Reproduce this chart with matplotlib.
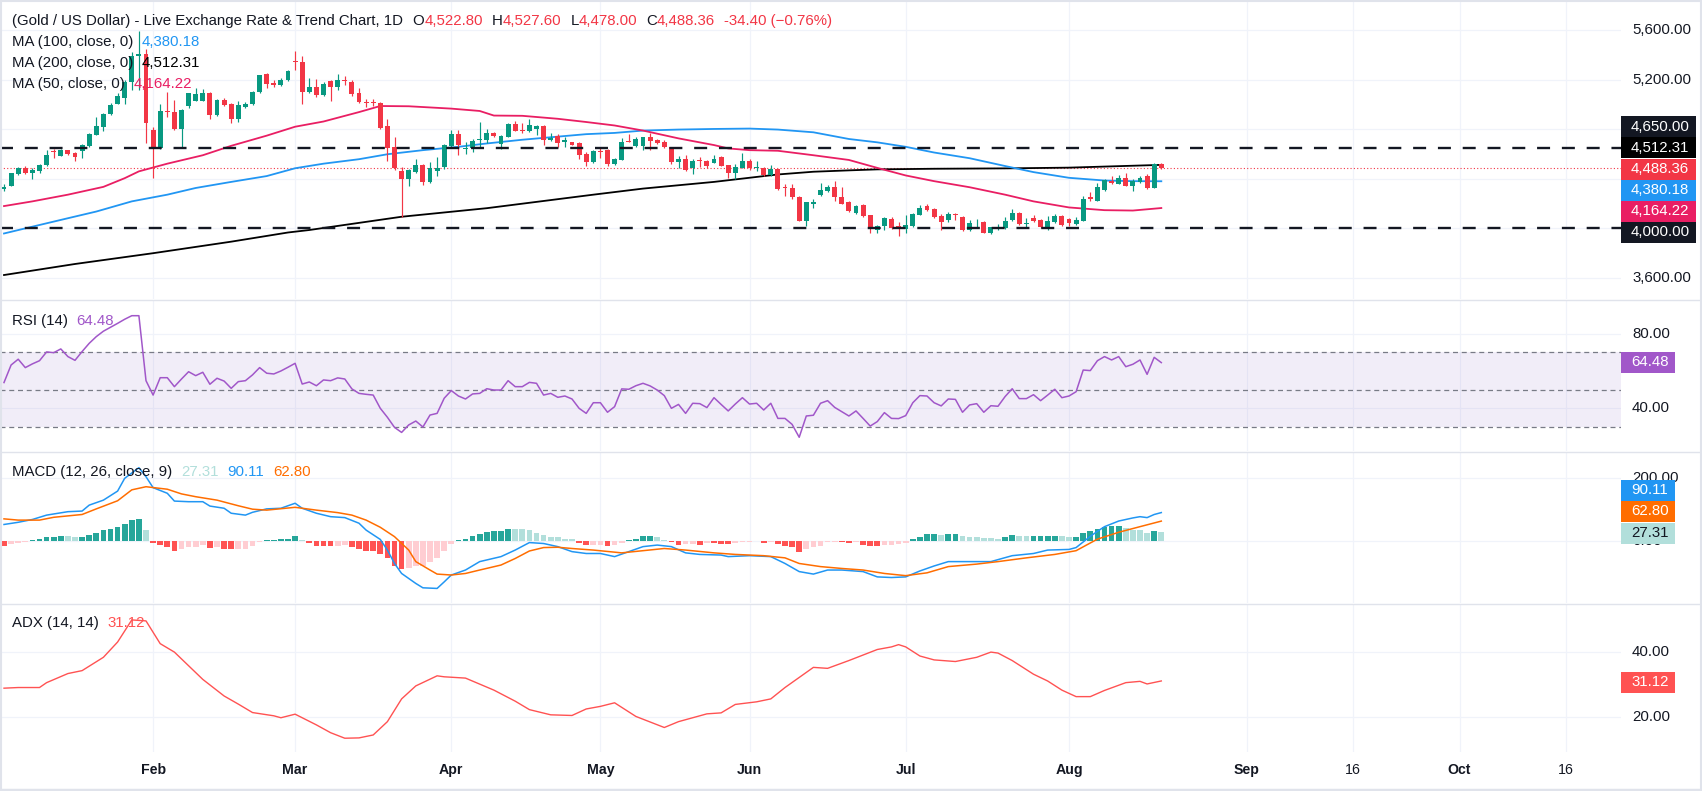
import numpy as np
import pandas as pd
import matplotlib
matplotlib.use("Agg")
import matplotlib.pyplot as plt
from matplotlib.patches import Rectangle
from matplotlib.lines import Line2D
from matplotlib.transforms import blended_transform_factory

plt.rcParams['font.family'] = ['Liberation Sans', 'DejaVu Sans']

# ------------------------------------------------------------------ data
holidays = ['2026-04-03']
dates = pd.bdate_range('2026-01-02', '2026-08-20')
dates = dates[~dates.isin(pd.to_datetime(holidays))]

opens = [4320, 4345, 4435, 4490, 4445, 4460, 4510, 4625, 4585, 4630,
         4610, 4626, 4666, 4753, 4820, 4920, 5006, 5055, 5183, 5390,
         5410, 4794, 4647, 4950, 4940, 4802, 4985, 5030, 5030, 5095,
         4911, 5039, 5000, 4879, 4980, 5000, 5102, 5245, 5170, 5155,
         5200, 5350, 5341, 5096, 5142, 5074, 5188, 5137, 5197, 5183,
         5088, 5015, 5015, 5015, 4824, 4653, 4462, 4400, 4457, 4508,
         4373, 4465, 4498, 4666, 4762, 4640, 4648, 4715, 4712, 4767,
         4680, 4740, 4843, 4790, 4789, 4800, 4824, 4710, 4748, 4700,
         4694, 4688, 4598, 4539, 4625, 4634, 4522, 4552, 4705, 4666,
         4666, 4740, 4713, 4694, 4653, 4539, 4563, 4484, 4548, 4544,
         4530, 4577, 4511, 4449, 4490, 4544, 4490, 4490, 4430, 4476,
         4330, 4326, 4256, 4063, 4200, 4267, 4299, 4332, 4256, 4210,
         4128, 4190, 4109, 3986, 4019, 4076, 4016, 3995, 4019, 4109,
         4177, 4158, 4103, 4068, 4117, 4092, 3986, 4041, 4052, 3962,
         4005, 4000, 4068, 4122, 4040, 4087, 4068, 4014, 4054, 4101,
         4076, 4035, 4063, 4250, 4225, 4313, 4386, 4362, 4408, 4340,
         4373, 4419, 4326, 4522.80]
highs = [4360, 4450, 4495, 4500, 4490, 4520, 4631, 4640, 4640, 4635,
         4620, 4680, 4770, 4895, 4930, 5010, 5090, 5200, 5420, 5592,
         5447, 4820, 5001, 5096, 5033, 4960, 5095, 5130, 5125, 5100,
         5045, 5050, 5010, 5030, 5020, 5110, 5240, 5255, 5200, 5210,
         5280, 5430, 5387, 5210, 5202, 5180, 5200, 5243, 5230, 5200,
         5130, 5040, 5040, 5020, 4880, 4740, 4495, 4480, 4560, 4520,
         4535, 4575, 4680, 4795, 4790, 4700, 4720, 4857, 4800, 4780,
         4750, 4850, 4865, 4850, 4885, 4830, 4830, 4770, 4760, 4740,
         4700, 4695, 4620, 4635, 4660, 4640, 4570, 4730, 4762, 4740,
         4740, 4770, 4725, 4710, 4660, 4585, 4590, 4560, 4575, 4555,
         4590, 4580, 4515, 4520, 4610, 4560, 4540, 4495, 4510, 4480,
         4360, 4360, 4260, 4215, 4240, 4370, 4350, 4380, 4330, 4220,
         4190, 4195, 4110, 4030, 4095, 4090, 4050, 4105, 4125, 4190,
         4200, 4165, 4120, 4130, 4125, 4100, 4070, 4073, 4060, 4014,
         4033, 4090, 4155, 4130, 4082, 4110, 4075, 4100, 4120, 4110,
         4085, 4090, 4260, 4291, 4365, 4400, 4420, 4430, 4450, 4395,
         4420, 4440, 4530, 4527.60]
lows = [4300, 4340, 4430, 4440, 4400, 4450, 4505, 4570, 4580, 4590,
        4540, 4570, 4660, 4750, 4783, 4915, 5000, 5000, 5115, 5115,
        4685, 4408, 4640, 4900, 4790, 4650, 4975, 5025, 5025, 4880,
        4905, 4985, 4850, 4860, 4970, 4995, 5095, 5130, 5140, 5150,
        5190, 5275, 5006, 5090, 5060, 5065, 5028, 5120, 5155, 5070,
        5015, 4980, 4985, 4805, 4545, 4470, 4095, 4340, 4450, 4350,
        4370, 4420, 4480, 4650, 4590, 4600, 4620, 4648, 4690, 4740,
        4640, 4735, 4785, 4770, 4780, 4750, 4675, 4705, 4660, 4660,
        4670, 4560, 4505, 4530, 4565, 4500, 4515, 4552, 4695, 4660,
        4630, 4630, 4680, 4650, 4520, 4484, 4460, 4440, 4495, 4490,
        4525, 4500, 4410, 4400, 4485, 4475, 4462, 4425, 4425, 4310,
        4265, 4240, 4060, 4020, 4168, 4260, 4290, 4220, 4195, 4130,
        4120, 4090, 3960, 3960, 3985, 3995, 3940, 3960, 4010, 4105,
        4140, 4080, 3990, 4050, 4068, 3980, 3980, 4014, 3960, 3955,
        3986, 3997, 4060, 4030, 4008, 4055, 4000, 3990, 4040, 4020,
        4020, 4030, 4060, 4218, 4220, 4305, 4355, 4360, 4340, 4300,
        4370, 4320, 4326, 4478.00]
closes = [4330, 4443, 4490, 4450, 4475, 4510, 4590, 4615, 4630, 4600,
          4575, 4672, 4760, 4825, 4925, 4993, 5066, 5183, 5393, 5410,
          4850, 4647, 4947, 4940, 4802, 4957, 5088, 5085, 5095, 4911,
          5039, 4993, 4884, 4993, 5006, 5102, 5238, 5165, 5160, 5200,
          5273, 5345, 5096, 5142, 5074, 5161, 5142, 5197, 5190, 5083,
          5020, 5010, 5010, 4810, 4645, 4484, 4400, 4468, 4508, 4375,
          4490, 4490, 4672, 4762, 4675, 4650, 4707, 4720, 4767, 4745,
          4743, 4843, 4789, 4785, 4835, 4827, 4713, 4730, 4688, 4710,
          4675, 4593, 4539, 4626, 4620, 4517, 4558, 4694, 4700, 4721,
          4735, 4707, 4685, 4653, 4539, 4563, 4468, 4544, 4544, 4503,
          4563, 4503, 4443, 4495, 4544, 4484, 4495, 4430, 4476, 4321,
          4325, 4250, 4063, 4210, 4210, 4307, 4332, 4250, 4199, 4144,
          4182, 4100, 3995, 4019, 4087, 4000, 4010, 4027, 4117, 4166,
          4150, 4090, 4054, 4117, 4110, 3986, 4041, 4046, 3965, 4008,
          4010, 4062, 4122, 4035, 4046, 4060, 4008, 4060, 4101, 4027,
          4046, 4068, 4239, 4240, 4335, 4392, 4365, 4408, 4340, 4381,
          4408, 4326, 4522.76, 4488.36]

# moving averages (bar position, value)
ma50_x = [0, 4, 9, 14, 17, 19, 23, 28, 32, 37, 41, 45, 50, 53, 57, 63, 67, 69, 73,
          78, 82, 86, 90, 95, 100, 102, 105, 109, 114, 119, 123, 127, 131, 136,
          141, 145, 150, 155, 159, 163]
ma50_v = [4180, 4218, 4272, 4335, 4405, 4460, 4522, 4590, 4666, 4748, 4820, 4862,
          4938, 4987, 4985, 4966, 4947, 4910, 4908, 4884, 4858, 4830, 4789, 4726,
          4672, 4645, 4631, 4626, 4590, 4552, 4488, 4427, 4381, 4332, 4272, 4218,
          4169, 4147, 4144, 4164.22]
ma100_x = [0, 4, 9, 13, 18, 23, 27, 32, 37, 41, 45, 50, 54, 59, 64, 68, 73, 78, 82,
           86, 90, 95, 100, 105, 109, 114, 119, 123, 127, 131, 136, 141, 145, 150,
           155, 159, 163]
ma100_v = [3959, 4014, 4082, 4136, 4218, 4272, 4326, 4375, 4422, 4485, 4522, 4558,
           4598, 4631, 4658, 4685, 4715, 4740, 4760, 4770, 4789, 4797, 4802, 4805,
           4797, 4775, 4721, 4694, 4658, 4612, 4566, 4503, 4454, 4408, 4386, 4381,
           4380.18]
ma200_x = [0, 10, 21, 32, 40, 43, 56, 68, 83, 90, 100, 109, 114, 119, 123, 131,
           141, 150, 163]
ma200_v = [3624, 3713, 3800, 3893, 3967, 3987, 4094, 4163, 4272, 4321, 4375, 4435,
           4457, 4468, 4476, 4481, 4484, 4490, 4512.31]

rsi = [53.8, 63.2, 66.3, 61.8, 63.8, 65.5, 70.2, 69.8, 71.8, 67.7,
       65.7, 70.4, 74.8, 78.4, 81.3, 83.4, 85.5, 87.7, 89.6, 89.6,
       54.8, 47.1, 56.4, 56.4, 51.6, 55.7, 59.6, 57.5, 59.3, 52.9,
       56.1, 54.6, 50.7, 54.3, 54.8, 57.9, 61.8, 58.8, 58.4, 60.0,
       62.0, 64.1, 53.0, 54.1, 52.1, 55.2, 54.8, 56.3, 55.7, 50.4,
       48.0, 47.5, 47.1, 40.0, 35.2, 29.8, 27.1, 31.1, 33.2, 30.0,
       36.4, 37.3, 45.4, 49.5, 46.6, 45.0, 47.7, 48.0, 50.5, 49.8,
       49.8, 54.8, 51.6, 51.6, 53.9, 53.4, 47.1, 48.0, 45.9, 46.6,
       45.0, 40.0, 37.3, 43.0, 43.0, 37.9, 40.9, 50.4, 50.2, 52.1,
       53.4, 52.0, 49.8, 46.8, 40.0, 42.1, 37.3, 42.7, 42.5, 40.4,
       45.7, 42.1, 38.6, 42.3, 45.7, 42.3, 42.7, 39.1, 42.7, 34.6,
       34.6, 31.4, 24.5, 35.9, 36.3, 42.7, 44.1, 40.5, 38.2, 35.9,
       38.6, 34.6, 30.5, 32.9, 37.7, 34.6, 34.5, 36.1, 43.0, 46.8,
       46.6, 43.0, 41.3, 45.0, 44.8, 37.9, 41.8, 42.5, 37.9, 41.4,
       41.1, 46.3, 50.5, 45.2, 45.2, 47.3, 44.1, 47.1, 50.2, 45.7,
       46.6, 48.9, 60.5, 60.2, 65.5, 67.7, 65.9, 67.7, 62.3, 63.6,
       65.9, 58.2, 67.3, 64.48]
rsi_levels = [70, 50, 30]

macd_x = [0, 2, 4, 6, 9, 11, 12, 14, 16, 17, 19, 20, 21, 23, 24, 26, 28, 29, 31,
          32, 34, 35, 37, 39, 41, 42, 44, 46, 48, 50, 51, 53, 54, 55, 56, 58, 59,
          61, 62, 63, 65, 67, 70, 72, 74, 76, 78, 80, 82, 84, 86, 88, 90, 92, 94,
          96, 98, 101, 102, 105, 108, 110, 112, 114, 116, 118, 121, 123, 125, 127,
          129, 131, 133, 136, 139, 142, 145, 147, 150, 151, 153, 154, 155, 157,
          159, 160, 161, 162, 163]
macd_v = [52, 59, 68, 82, 93, 95, 114, 130, 159, 200, 234, 205, 170, 152, 127, 125,
          125, 111, 104, 88, 82, 91, 102, 104, 120, 104, 88, 77, 74, 56, 34, 4, -30,
          -73, -105, -137, -151, -153, -132, -110, -94, -67, -51, -30, -6, -9, -19,
          -35, -41, -41, -51, -35, -19, -14, -19, -39, -44, -46, -51, -48, -51, -73,
          -99, -107, -94, -94, -99, -116, -118, -116, -97, -81, -67, -67, -67, -48,
          -41, -30, -28, -22, 14, 30, 45, 63, 73, 77, 74, 84, 90.11]
signal_x = [0, 2, 5, 7, 11, 13, 16, 18, 20, 23, 25, 27, 30, 33, 35, 37, 41, 44, 47,
            49, 51, 53, 55, 57, 58, 60, 61, 63, 65, 67, 70, 72, 74, 76, 78, 80, 83,
            87, 90, 93, 96, 100, 103, 107, 110, 112, 115, 118, 121, 124, 127, 130,
            133, 137, 140, 144, 148, 151, 154, 157, 160, 163]
signal_v = [70, 66, 66, 75, 84, 102, 128, 163, 173, 165, 150, 141, 130, 112, 101, 98,
            107, 98, 90, 82, 66, 43, 13, -30, -67, -94, -107, -110, -105, -94, -78,
            -57, -33, -22, -21, -25, -30, -39, -32, -25, -30, -39, -44, -48, -55, -73,
            -83, -89, -94, -105, -112, -103, -83, -75, -67, -55, -44, -32, 5, 27, 45,
            62.80]
hist = [-17, -11, -6, -4, 2, 7, 12, 12, 15, 14, 12, 13, 18, 26, 34, 38, 43, 53, 66, 70, 34,
        -6, -14, -21, -32, -28, -21, -19, -14, -22, -21, -28, -28, -27, -25, -17, -4, 2, 2, 4, 7,
        15, 2, -6, -17, -17, -17, -16, -15, -21, -25, -32, -32, -44, -57, -80, -90, -89, -81, -80, -67,
        -57, -32, -11, 2, 7, 16, 20, 29, 31, 31, 37, 36.5, 36, 34, 24, 18, 13, 11, 7, 5,
        -6, -15, -14, -13, -17, -14, -6, 2, 7, 15, 15.5, 13, 3, -5, -14, -11, -10.5, -14, -6, -7,
        -9, -9, -6, -4, -3, -2.5, -6, -3, -11, -16, -19, -35, -28, -21, -17, -5, -4, -5, -6, -5,
        -14, -16, -16, -14, -13.5, -11, -6, 5, 13, 21, 21, 18, 21, 21, 15, 12, 11.5, 9, 8.5, 5,
        12, 18, 15, 14.5, 15, 15, 15, 15, 14.5, 12, 12, 25, 32, 37, 44, 46, 47, 42, 35, 34.5,
        25, 30, 27.31]

adx_x = [0, 2, 5, 6, 9, 11, 14, 16, 18, 20, 22, 24, 26, 28, 31, 33, 35, 38, 39, 41, 44,
         46, 48, 50, 52, 54, 56, 58, 61, 62, 65, 69, 72, 74, 77, 80, 82, 84, 86, 89, 93,
         95, 99, 101, 103, 106, 108, 110, 114, 116, 119, 123, 125, 126, 127, 129, 131,
         134, 137, 139, 140, 142, 145, 147, 149, 151, 153, 155, 158, 160, 161, 163]
adx_v = [28.9, 29.1, 29.1, 30.6, 33.4, 34.3, 38.4, 43.1, 49.9, 49.6, 42.6, 40.0, 35.8,
         31.6, 26.5, 24.0, 21.4, 20.4, 19.8, 20.9, 17.6, 15.2, 13.5, 13.6, 14.5, 18.6,
         25.6, 29.6, 32.7, 32.4, 32.0, 28.3, 24.9, 22.3, 20.7, 20.5, 22.5, 23.3, 24.4,
         20.2, 16.8, 18.6, 21.0, 21.3, 23.9, 24.7, 25.6, 29.1, 35.3, 35.0, 37.4, 40.8,
         41.6, 42.3, 41.6, 38.8, 37.6, 37.1, 38.4, 40.0, 39.7, 37.4, 33.2, 31.1, 28.3,
         26.3, 26.3, 28.2, 30.6, 31.0, 30.2, 31.12]

price_levels = [4650, 4000]
price_ticks = [3600, 4000, 4400, 4800, 5200, 5600]
price_tick_labels_shown = [5600, 5200, 3600]
rsi_ticks = [80, 40]
macd_ticks = [200, 0]
adx_ticks = [40, 20]

tick_dates = ['2026-02-02', '2026-03-02', '2026-04-01', '2026-05-01', '2026-06-01',
              '2026-07-01', '2026-08-03', '2026-09-01', '2026-09-16', '2026-10-01',
              '2026-10-16']
tick_labels = ['Feb', 'Mar', 'Apr', 'May', 'Jun', 'Jul', 'Aug', 'Sep', '16', 'Oct', '16']

title = '(Gold / US Dollar) - Live Exchange Rate & Trend Chart, 1D'

# ------------------------------------------------------------------ style / layout
W, H = 1702, 791
PLOT_R = 1621
FIRST_PX, BAR_PX = 4.0, 7.1
FS = 10.8
XFS = 10.2
DARK = '#131722'
GRID = '#f0f3fa'
SEP = '#e0e3eb'
UP, DOWN = '#089981', '#f23645'
C_MA50, C_MA100, C_MA200 = '#e91e63', '#2196f3', '#000000'
C_RSI = '#a157c9'
C_MACD, C_SIG = '#2196f3', '#ff6d00'
H_UP, H_UP_L, H_DN, H_DN_L = '#26a69a', '#b2dfdb', '#ff5252', '#ffcdd2'
C_ADX = '#ff5252'

fig = plt.figure(figsize=(W / 100, H / 100), dpi=100)
fig.patch.set_facecolor('white')

n = len(closes)
assert len(dates) == n == len(opens) == len(highs) == len(lows) == len(rsi) == len(hist)
idx = np.arange(n)


def tick_position(d):
    d = pd.Timestamp(d)
    if d <= dates[-1]:
        return float(dates.get_indexer([d])[0])
    return float(n - 1 + (d - dates[-1]).days)


tick_pos = [tick_position(d) for d in tick_dates]
xlim = ((0 - FIRST_PX) / BAR_PX, (PLOT_R - FIRST_PX) / BAR_PX)


def make_pane(top, bot, ylim, gridy):
    ax = fig.add_axes([0, 1 - bot / H, PLOT_R / W, (bot - top) / H])
    ax.set_xlim(*xlim)
    ax.set_ylim(*ylim)
    ax.axis('off')
    for t in tick_pos:
        ax.axvline(t, color=GRID, lw=0.9, zorder=0)
    for g in gridy:
        ax.axhline(g, color=GRID, lw=0.9, zorder=0)
    return ax


# pane pixel bounds and value scales (value at pixel rows)
ax_p = make_pane(1, 299, (5600 - (299 - 30) / 0.124, 5600 + 29 / 0.124), price_ticks)
ax_r = make_pane(300, 451, (30 - 24 / 1.8675, 70 + 52.3 / 1.8675), rsi_ticks)
ax_m = make_pane(452, 603, ((540.7 - 603) / 0.312, (540.7 - 452) / 0.312), macd_ticks)
ax_a = make_pane(604, 752, (40 - (752 - 652.1) / 3.25, 40 + (652.1 - 604) / 3.25), adx_ticks)

# ---- price pane
o = np.array(opens, float); c = np.array(closes, float)
hi = np.array(highs, float); lo = np.array(lows, float)
up = c >= o
cols = np.where(up, UP, DOWN)
ax_p.vlines(idx, lo, hi, colors=cols, lw=0.85, zorder=3)
body = np.abs(c - o)
bh = np.maximum(body, 7.0)
bottom = np.minimum(o, c) - (bh - body) / 2
ax_p.bar(idx, bh, bottom=bottom, width=0.7, color=cols, linewidth=0, zorder=4)

ax_p.plot(ma200_x, ma200_v, color=C_MA200, lw=1.3, zorder=2)
ax_p.plot(ma100_x, ma100_v, color=C_MA100, lw=1.3, zorder=2)
ax_p.plot(ma50_x, ma50_v, color=C_MA50, lw=1.3, zorder=2)
for lvl in price_levels:
    ax_p.axhline(lvl, color=DARK, lw=1.7, ls=(0, (5.5, 5.0)), zorder=5)
ax_p.axhline(closes[-1], color=DOWN, lw=0.8, ls=(0, (1, 2)), zorder=1)

# ---- RSI pane
ax_r.axhspan(rsi_levels[2], rsi_levels[0], color='#7e57c2', alpha=0.1, lw=0, zorder=0)
for lvl in rsi_levels:
    ax_r.axhline(lvl, color='#787b86', lw=0.9, ls=(0, (4, 3)), zorder=1)
ax_r.plot(idx, rsi, color=C_RSI, lw=1.1, zorder=3)

# ---- MACD pane
h = np.array(hist, float)
prev = np.concatenate([[h[0]], h[:-1]])
hcol = np.where(h >= 0, np.where(h >= prev, H_UP, H_UP_L), np.where(h <= prev, H_DN, H_DN_L))
ax_m.bar(idx, h, width=0.8, color=hcol, linewidth=0, zorder=2)
ax_m.plot(macd_x, macd_v, color=C_MACD, lw=1.1, zorder=3)
ax_m.plot(signal_x, signal_v, color=C_SIG, lw=1.1, zorder=3)

# ---- ADX pane
ax_a.plot(adx_x, adx_v, color=C_ADX, lw=1.0, zorder=3)

# ---- x axis labels
for t, lab in zip(tick_pos, tick_labels):
    xp = (FIRST_PX + t * BAR_PX) / W
    fig.text(xp, 1 - 770 / H, lab, ha='center', va='center', fontsize=XFS, color=DARK,
             fontweight='normal' if lab.isdigit() else 'bold')


# ---- right scale labels
def scale_label(ax, val, text):
    tr = blended_transform_factory(fig.transFigure, ax.transData)
    ax.text((PLOT_R + 11) / W, val, text, transform=tr, ha='left', va='center',
            fontsize=FS, color=DARK, clip_on=False, zorder=1)


for v in price_tick_labels_shown:
    scale_label(ax_p, v, f'{v:,.2f}')
for v in rsi_ticks:
    scale_label(ax_r, v, f'{v:.2f}')
for v in macd_ticks:
    scale_label(ax_m, v, f'{v:.2f}')
for v in adx_ticks:
    scale_label(ax_a, v, f'{v:.2f}')


def badge(y_px, text, bg, fg='white', w=75):
    fig.add_artist(Rectangle((PLOT_R / W, 1 - (y_px + 10.5) / H), w / W, 21 / H,
                             transform=fig.transFigure, facecolor=bg, edgecolor='none',
                             zorder=10))
    fig.text((PLOT_R + 10) / W, 1 - y_px / H, text, color=fg, fontsize=FS,
             ha='left', va='center', zorder=11)


# badge rows (pixel centres after TradingView's label de-overlap)
price_badges = [(126.7, f'{price_levels[0]:,.2f}', DARK),
                (147.7, f'{ma200_v[-1]:,.2f}', '#000000'),
                (169.3, f'{closes[-1]:,.2f}', DOWN),
                (190.3, f'{ma100_v[-1]:,.2f}', C_MA100),
                (211.3, f'{ma50_v[-1]:,.2f}', C_MA50),
                (232.0, f'{price_levels[1]:,.2f}', DARK)]
for y, t, col in price_badges:
    badge(y, t, col)
badge(362.5, f'{rsi[-1]:.2f}', C_RSI, w=54)
badge(490.0, f'{macd_v[-1]:.2f}', C_MACD, w=54)
badge(511.0, f'{signal_v[-1]:.2f}', C_SIG, w=54)
badge(533.0, f'{hist[-1]:.2f}', H_UP_L, fg=DARK, w=54)
badge(682.0, f'{adx_v[-1]:.2f}', C_ADX, w=54)

# ---- legends (multi-coloured text runs)
renderer = fig.canvas.get_renderer()


def rich(x_px, y_px, parts):
    x = x_px
    for s, col, gap in parts:
        t = fig.text(x / W, 1 - y_px / H, s, color=col, fontsize=FS, ha='left',
                     va='center', zorder=12)
        x += t.get_window_extent(renderer=renderer).width + gap


chg = closes[-1] - closes[-2]
rich(11.5, 20.7, [(title, DARK, 10),
                  ('O', DARK, 0), (f'{opens[-1]:,.2f}', DOWN, 9),
                  ('H', DARK, 0), (f'{highs[-1]:,.2f}', DOWN, 9),
                  ('L', DARK, 0), (f'{lows[-1]:,.2f}', DOWN, 9),
                  ('C', DARK, 0), (f'{closes[-1]:,.2f}', DOWN, 9),
                  (f'{chg:.2f} (\u2212{abs(chg) / closes[-2] * 100:.2f}%)', DOWN, 0)])
rich(11.5, 41.7, [('MA (100, close, 0)', DARK, 9), (f'{ma100_v[-1]:,.2f}', C_MA100, 0)])
rich(11.5, 62.7, [('MA (200, close, 0)', DARK, 9), (f'{ma200_v[-1]:,.2f}', C_MA200, 0)])
rich(11.5, 83.7, [('MA (50, close, 0)', DARK, 9), (f'{ma50_v[-1]:,.2f}', C_MA50, 0)])
rich(11.5, 321.0, [('RSI (14)', DARK, 9), (f'{rsi[-1]:.2f}', C_RSI, 0)])
rich(11.5, 471.7, [('MACD (12, 26, close, 9)', DARK, 9), (f'{hist[-1]:.2f}', H_UP_L, 9),
                   (f'{macd_v[-1]:.2f}', C_MACD, 9), (f'{signal_v[-1]:.2f}', C_SIG, 0)])
rich(11.5, 622.8, [('ADX (14, 14)', DARK, 9), (f'{adx_v[-1]:.2f}', C_ADX, 0)])

# ---- separators and frame
for y in (299.5, 451.5, 603.5):
    fig.add_artist(Line2D([0, 1], [1 - y / H] * 2, transform=fig.transFigure, color=SEP, lw=1.0))
fig.add_artist(Line2D([0, 1], [1 - 0.5 / H] * 2, transform=fig.transFigure, color=SEP, lw=1.5))
fig.add_artist(Line2D([0, 1], [1.5 / H] * 2, transform=fig.transFigure, color=SEP, lw=2.5))
fig.add_artist(Line2D([1 - 0.8 / W] * 2, [0, 1], transform=fig.transFigure, color=SEP, lw=1.5))
fig.add_artist(Line2D([0.8 / W] * 2, [0, 1], transform=fig.transFigure, color=SEP, lw=1.5))

fig.savefig('out.png', dpi=100, facecolor='white')
